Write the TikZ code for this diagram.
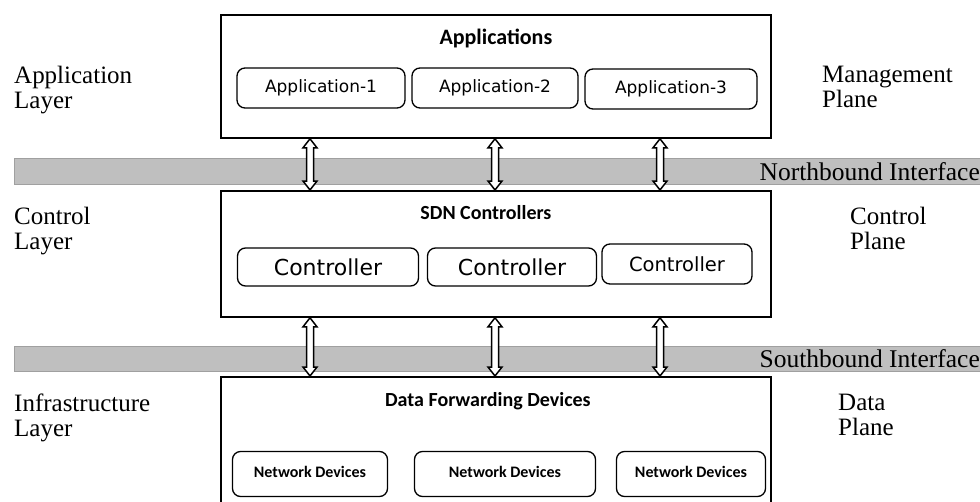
\documentclass[tikz,border=0pt]{standalone}
\usepackage{fontspec}
\setmainfont{Liberation Serif}
\newfontfamily\boxfont{Carlito}
\newfontfamily\appfont{DejaVu Sans}
\usetikzlibrary{positioning,calc}
\definecolor{bandgray}{HTML}{BFBFBF}
\definecolor{bandedge}{HTML}{A0A0A0}
\tikzset{
  layerbox/.style={draw, line width=1.8pt, minimum width=550pt, inner sep=0pt},
  subbox/.style={draw, rounded corners=8pt, line width=1.3pt, inner sep=0pt, minimum height=40pt},
  title/.style={font=\boxfont\bfseries\fontsize{20}{24}\selectfont, inner sep=0pt},
  apptext/.style={font=\appfont\fontsize{17}{20}\selectfont},
  ctrltext/.style={font=\appfont\fontsize{22}{26}\selectfont},
  devtext/.style={font=\boxfont\bfseries\fontsize{16}{19}\selectfont},
  sidelabel/.style={align=left, font=\fontsize{25}{25}\selectfont, inner sep=0pt},
  band/.style={fill=bandgray, draw=bandedge, line width=1pt, inner sep=0pt},
  bandlabel/.style={font=\fontsize{25.5}{27}\selectfont, inner sep=1pt},
  biarrow/.style={draw, fill=white, line width=1.5pt, line join=miter}
}
\begin{document}
\begin{tikzpicture}[x=1pt,y=-1pt]
  \clip (0,0) rectangle (980,501);
  \fill[white] (0,0) rectangle (980,501);
  % interface bands
  \node[band, anchor=north west, minimum width=972pt, minimum height=26pt] (nbi) at (14,158) {};
  \node[bandlabel, anchor=east] at ($(nbi.east)+(-6,0)$) {Northbound Interface};
  \node[band, anchor=north west, minimum width=972pt, minimum height=25pt] (sbi) at (14,346) {};
  \node[bandlabel, anchor=east] at ($(sbi.east)+(-6,0)$) {Southbound Interface};

  % layers
  \node[layerbox, anchor=north west, minimum height=123pt] (apps) at (220,14) {};
  \node[layerbox, anchor=north west, minimum height=126pt] (ctrl) at (220,190) {};
  \node[layerbox, anchor=north west, minimum height=140pt] (fwd) at (220,376) {};
  \node[title, below=15pt of apps.north, font=\boxfont\bfseries\fontsize{22}{26}\selectfont] {Applications};
  \node[title, below=15pt of ctrl.north, xshift=-10pt] {SDN Controllers};
  \node[title, below=16pt of fwd.north, xshift=-8pt] {Data Forwarding Devices};

  % application boxes
  \node[subbox, apptext, minimum width=168pt] (app1) at (321,88) {Application-1\hspace{18pt}};
  \node[subbox, apptext, minimum width=166pt] (app2) at (495,88) {Application-2\hspace{18pt}};
  \node[subbox, apptext, minimum width=172pt] (app3) at (671,89) {Application-3\hspace{6pt}};

  % controller boxes
  \node[subbox, ctrltext, minimum width=181pt, minimum height=38pt] (ctl1) at (328,267) {\raisebox{-2pt}{Controller}\hspace{16pt}};
  \node[subbox, ctrltext, minimum width=169pt, minimum height=38pt] (ctl2) at (512,267) {\raisebox{-2pt}{Controller}\hspace{18pt}};
  \node[subbox, minimum width=150pt, minimum height=40pt, font=\appfont\fontsize{19.5}{23}\selectfont] (ctl3) at (677,264) {Controller\hspace{20pt}};

  % network devices
  \node[subbox, devtext, minimum width=155pt, minimum height=45pt] (dev1) at (310,474) {\raisebox{5pt}{Network Devices}};
  \node[subbox, devtext, minimum width=181pt, minimum height=45pt] (dev2) at (505,474) {\raisebox{5pt}{Network Devices}\hspace{30pt}};
  \node[subbox, devtext, minimum width=149pt, minimum height=45pt] (dev3) at (691,474) {\raisebox{5pt}{Network Devices}};

  % side labels
  \node[sidelabel, anchor=north west] at (14,66) {Application\\Layer};
  \node[sidelabel, anchor=north west] at (14,207) {Control\\Layer};
  \node[sidelabel, anchor=north west] at (14,394) {Infrastructure\\Layer};
  \node[sidelabel, anchor=north west] at (822,66) {Management\\Plane};
  \node[sidelabel, anchor=north west] at (850,207) {Control\\Plane};
  \node[sidelabel, anchor=north west] at (838,394) {Data\\Plane};

  % interface arrows
  \foreach \ax in {310,495,660}{
    \path (apps.south -| \ax,0) coordinate (up1) (ctrl.north -| \ax,0) coordinate (dn1);
    \path (ctrl.south -| \ax,0) coordinate (up2) (fwd.north -| \ax,0) coordinate (dn2);
    \draw[biarrow] (up1) -- ++(7,9) -- ++(-3.5,0) -- ($(dn1)+(3.5,-9)$) -- ++(3.5,0) -- (dn1)
      -- ++(-7,-9) -- ++(3.5,0) -- ($(up1)+(-3.5,9)$) -- ++(-3.5,0) -- cycle;
    \draw[biarrow] (up2) -- ++(7,9) -- ++(-3.5,0) -- ($(dn2)+(3.5,-9)$) -- ++(3.5,0) -- (dn2)
      -- ++(-7,-9) -- ++(3.5,0) -- ($(up2)+(-3.5,9)$) -- ++(-3.5,0) -- cycle;
  }
\end{tikzpicture}
\end{document}
